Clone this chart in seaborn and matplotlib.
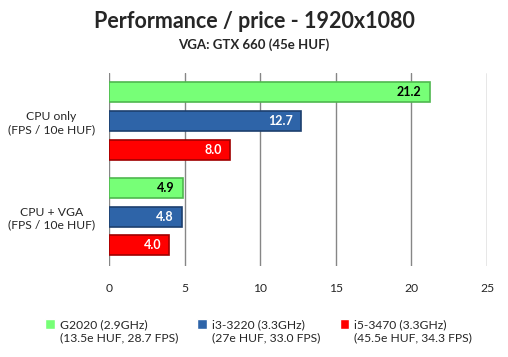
import pandas as pd
import matplotlib
matplotlib.use('Agg')
import matplotlib.pyplot as plt
import seaborn as sns
from matplotlib.patches import Rectangle
from matplotlib.legend_handler import HandlerPatch

groups = ['CPU only\n(FPS / 10e HUF)', 'CPU + VGA\n(FPS / 10e HUF)']
cpus = ['G2020 (2.9GHz)\n(13.5e HUF, 28.7 FPS)',
        'i3-3220 (3.3GHz)\n(27e HUF, 33.0 FPS)',
        'i5-3470 (3.3GHz)\n(45.5e HUF, 34.3 FPS)']
g2020 = [21.2, 4.9]
i3_3220 = [12.7, 4.8]
i5_3470 = [8.0, 4.0]
colors = ['#77FF77', '#2E64A8', '#FF0000']
edges = ['#4FB84F', '#1D3F6E', '#A00000']
text_colors = ['black', 'white', 'white']

rows = []
for cpu, vals in zip(cpus, [g2020, i3_3220, i5_3470]):
    for g, v in zip(groups, vals):
        rows.append({'group': g, 'cpu': cpu, 'value': v})
df = pd.DataFrame(rows)

sns.set_style('white')
plt.rcParams['font.family'] = ['Lato', 'DejaVu Sans']

fig = plt.figure(figsize=(5.08, 3.57), dpi=100)
ax = fig.add_axes([109 / 508, 1 - 266 / 357, 378 / 508, 193 / 357])

sns.barplot(data=df, x='value', y='group', hue='cpu', palette=colors,
            orient='h', width=0.9, gap=0.3, ax=ax, saturation=1,
            legend=True, zorder=3)

for i, cont in enumerate(ax.containers):
    for bar in cont:
        bar.set_edgecolor(edges[i])
        bar.set_linewidth(1.2)
        w = bar.get_width()
        yc = bar.get_y() + bar.get_height() / 2
        ax.annotate(f'{w:.1f}', (w, yc), xytext=(-6, 0), textcoords='offset points',
                    ha='right', va='center', fontsize=9, fontweight='bold',
                    color=text_colors[i], zorder=5)

ax.set_xlim(0, 25)
ax.set_xticks([0, 5, 10, 15, 20, 25])
ax.set_ylim(1.518, -0.503)
ax.grid(axis='x', color='#868686', linewidth=1, zorder=0)
ax.set_axisbelow(True)
for s in ax.spines.values():
    s.set_visible(False)
ax.tick_params(axis='both', length=0, labelsize=8.7)
ax.tick_params(axis='x', pad=12)
ax.tick_params(axis='y', pad=10)
for lab in ax.get_yticklabels():
    lab.set_multialignment('center')
ax.set_xlabel('')
ax.set_ylabel('')


def make_square(legend, orig_handle, xdescent, ydescent, width, height, fontsize):
    return Rectangle((width - 8, height / 2 + 2), 7, 7)


handles, labels = ax.get_legend_handles_labels()
ax.legend(handles, labels, loc='upper center', bbox_to_anchor=(0.395, -0.22),
          ncol=3, frameon=False, fontsize=8.7, handlelength=1.0,
          handletextpad=0.3, columnspacing=1.5,
          handler_map={Rectangle: HandlerPatch(patch_func=make_square)})

fig.text(0.5, 1 - 22 / 357, 'Performance / price - 1920x1080', ha='center', va='center',
         fontsize=15.5, fontweight='bold')
fig.text(0.5, 1 - 45 / 357, 'VGA: GTX 660 (45e HUF)', ha='center', va='center',
         fontsize=9.5, fontweight='bold')

fig.savefig('out.png', dpi=100)
